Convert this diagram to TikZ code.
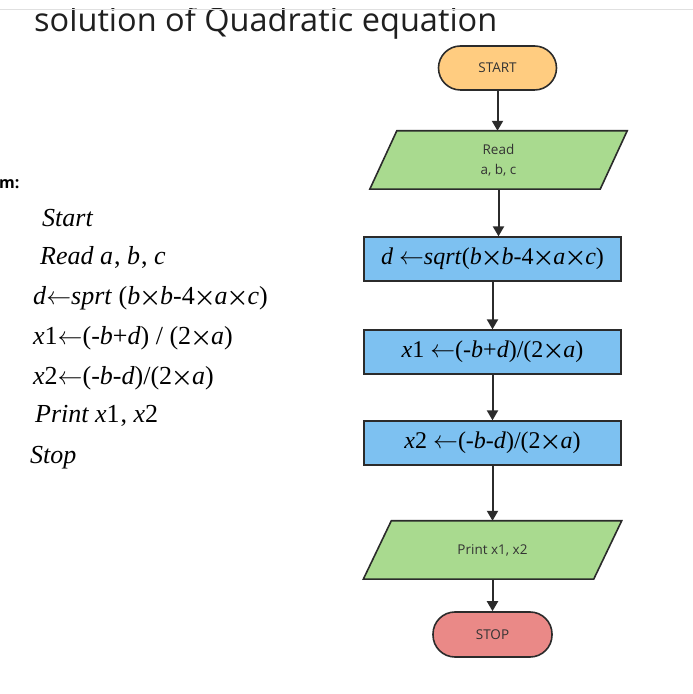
\documentclass[tikz,border=0pt]{standalone}
\usepackage{fontspec}
\setmainfont{Liberation Serif}
\setsansfont{Open Sans}
\usetikzlibrary{arrows.meta,calc}
\definecolor{edge}{HTML}{2B2B2B}
\definecolor{labelc}{HTML}{333333}
\definecolor{startc}{HTML}{FFCC80}
\definecolor{ioc}{HTML}{A9DA8F}
\definecolor{procc}{HTML}{7DC1F1}
\definecolor{stopc}{HTML}{EA8987}
\newcommand{\la}{$\leftarrow$}
\newcommand{\tm}{\kern-1.2pt{\boldmath$\times$}\kern-1.2pt}
\begin{document}
\begin{tikzpicture}[x=1pt,y=1pt,
  term/.style={draw=edge,line width=1.6pt,rounded corners=22pt,minimum width=118pt,minimum height=44pt,font=\sffamily\fontsize{13.5}{16}\selectfont,text=labelc,inner sep=0pt},
  proc/.style={draw=edge,line width=1.3pt,fill=procc,minimum width=257pt,minimum height=44pt,font=\fontsize{24}{26}\selectfont,inner sep=0pt},
  io/.style={minimum width=230pt,minimum height=58pt,inner sep=0pt,font=\sffamily\fontsize{13.5}{20}\selectfont,text=labelc,align=center},
  iobox/.style={draw=edge,line width=1.6pt,fill=ioc},
  flow/.style={draw=edge,line width=2pt,-{Triangle[length=10pt,width=11pt]}},
  algo/.style={anchor=base west,font=\fontsize{26}{30}\selectfont,inner sep=0pt},
  titlef/.style={anchor=base west,font=\sffamily\fontsize{32.5}{36}\selectfont,text=black!88,inner sep=0pt}
]
\useasboundingbox (0,0) rectangle (693,694);
\node[titlef] (title) at (34,662) {solution of Quadratic equation};
\fill[white] (0,686) rectangle (693,694);
\draw[black!12,line width=0.8pt] (0,685) -- (693,685);
\node[anchor=base west,font=\sffamily\bfseries\fontsize{16}{18}\selectfont,inner sep=0pt] (alg) at (-1,505) {m:};

% algorithm text
\node[algo] (a1) at (42,467) {\textit{Start}};
\node[algo] (a2) at (40,429) {\textit{Read a}\kern1pt, \textit{b}\kern1pt, \textit{c}};
\node[algo] (a3) at (33,389) {\textit{d}\la\textit{sprt} (\textit{b}\tm\textit{b}-4\tm\textit{a}\tm\textit{c})};
\node[algo] (a4) at (33,349) {\textit{x}1\la(-\textit{b}+\textit{d}) / (2\tm\textit{a})};
\node[algo] (a5) at (33,309) {\textit{x}2\la(-\textit{b}-\textit{d})/(2\tm\textit{a})};
\node[algo] (a6) at (35,271) {\textit{Print x}1\kern1pt, \textit{x}2};
\node[algo] (a7) at (30,230) {\textit{Stop}};

% flowchart
\node[term,fill=startc] (start) at (497.5,626) {START};
\node[io] (read) at (498.5,534) {};
\path[iobox] ($(read.north west)+(13.5,0)$) -- ($(read.north east)+(13.5,0)$) -- ($(read.south east)-(13.5,0)$) -- ($(read.south west)-(13.5,0)$) -- cycle;
\node[io] (readt) at (read) {Read\\a, b, c};
\node[proc] (d) at (492.5,435) {\textit{d} \la\textit{sqrt}(\textit{b}\tm\textit{b}-4\tm\textit{a}\tm\textit{c})};
\node[proc] (x1) at (492.5,342) {\textit{x}1 \la(-\textit{b}+\textit{d})/(2\tm\textit{a})};
\node[proc] (x2) at (492.5,251) {\textit{x}2 \la(-\textit{b}-\textit{d})/(2\tm\textit{a})};
\node[io] (print) at (492.5,144) {};
\path[iobox] ($(print.north west)+(14,0)$) -- ($(print.north east)+(14,0)$) -- ($(print.south east)-(14,0)$) -- ($(print.south west)-(14,0)$) -- cycle;
\node[io] (printt) at (print) {Print x1, x2};
\node[term,fill=stopc,minimum width=119pt,minimum height=45pt] (stop) at (492.5,59.5) {STOP};

\draw[flow] (start.south) -- (start.south |- read.north);
\draw[flow] (read.south) -- (read.south |- d.north);
\draw[flow] (d) -- (x1);
\draw[flow] (x1) -- (x2);
\draw[flow] (x2) -- (print);
\draw[flow] (print) -- (stop);
\end{tikzpicture}
\end{document}
